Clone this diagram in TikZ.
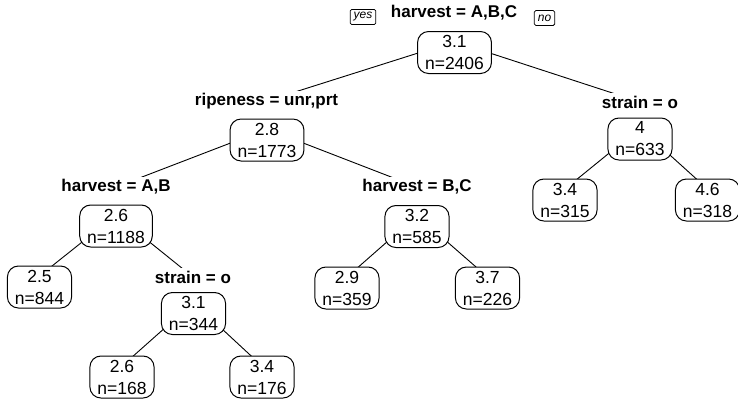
\documentclass[tikz,border=0pt]{standalone}
\usepackage{fontspec}
\setmainfont{Liberation Sans}
\usetikzlibrary{backgrounds}
\begin{document}
\begin{tikzpicture}[x=1pt,y=-1pt,
  every node/.style={font=\fontsize{17.5}{22}\selectfont},
  nodebox/.style={draw, rounded corners=11pt, fill=white, line width=1pt,
    align=center, inner xsep=7.5pt, inner ysep=0pt, minimum height=42pt},
  split/.style={font=\fontsize{17}{20}\selectfont\bfseries, fill=white, inner sep=2.5pt},
  yn/.style={draw, rounded corners=1.5pt, line width=0.8pt,
    font=\fontsize{12}{12}\selectfont\itshape, inner xsep=3.5pt, inner ysep=1.5pt,
    minimum height=15pt},
  branch/.style={line width=0.9pt}]
\useasboundingbox (0,0) rectangle (738,402);

% split labels
\node[split] (lab1)  at (454,13)    {harvest = A,B,C};
\node[split] (lab28) at (266.5,101) {ripeness = unr,prt};
\node[split] (lab4)  at (640,102)   {strain = o};
\node[split] (lab26) at (116,187)   {harvest = A,B};
\node[split] (lab32) at (417,187)   {harvest = B,C};
\node[split] (lab31) at (193,277)   {strain = o};

% yes / no hints beside the root split
\node[yn] (yes) at (363,17) {yes};
\node[yn] (no)  at (544.5,18) {no};

% tree nodes
\node[nodebox] (root) at (454.5,52.5) {3.1\\n=2406};
\node[nodebox] (n28)  at (267,140)    {2.8\\n=1773};
\node[nodebox] (n4)   at (640,139)    {4\\n=633};
\node[nodebox] (n26)  at (116,226)    {2.6\\n=1188};
\node[nodebox] (n32)  at (417,226.5)  {3.2\\n=585};
\node[nodebox] (l34a) at (565,200)    {3.4\\n=315};
\node[nodebox] (l46)  at (707.5,200)  {4.6\\n=318};
\node[nodebox] (l25)  at (39.5,287)   {2.5\\n=844};
\node[nodebox] (n31)  at (193.5,313.5){3.1\\n=344};
\node[nodebox] (l29)  at (347,288)    {2.9\\n=359};
\node[nodebox] (l37)  at (487.5,288)  {3.7\\n=226};
\node[nodebox] (l26b) at (122,377)    {2.6\\n=168};
\node[nodebox] (l34b) at (262,377)    {3.4\\n=176};

% branches, drawn behind the labels and boxes
\begin{scope}[on background layer]
  \draw[branch] ([yshift=11pt]root.center) -- (lab28.center);
  \draw[branch] ([yshift=11pt]root.center) -- (lab4.center);
  \draw[branch] ([yshift=11pt]n28.center)  -- (lab26.center);
  \draw[branch] ([yshift=11pt]n28.center)  -- (lab32.center);
  \draw[branch] ([yshift=11pt]n4.center)   -- ([yshift=11pt]l34a.center);
  \draw[branch] ([yshift=11pt]n4.center)   -- ([yshift=11pt]l46.center);
  \draw[branch] ([yshift=11pt]n26.center)  -- ([yshift=11pt]l25.center);
  \draw[branch] ([yshift=11pt]n26.center)  -- (lab31.center);
  \draw[branch] ([yshift=11pt]n32.center)  -- ([yshift=11pt]l29.center);
  \draw[branch] ([yshift=11pt]n32.center)  -- ([yshift=11pt]l37.center);
  \draw[branch] ([yshift=11pt]n31.center)  -- ([yshift=11pt]l26b.center);
  \draw[branch] ([yshift=11pt]n31.center)  -- ([yshift=11pt]l34b.center);
\end{scope}
\end{tikzpicture}
\end{document}
